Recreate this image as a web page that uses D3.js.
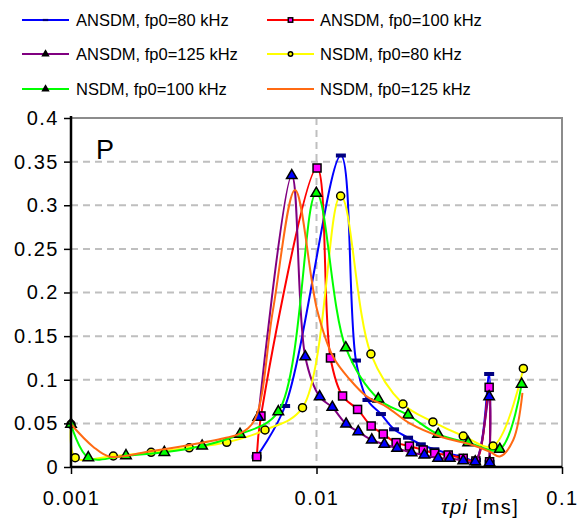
<!DOCTYPE html>
<html>
    <head>
        <meta charset="utf-8">
        <title></title>
        <script src="https://d3js.org/d3.v7.min.js"></script>
        <style>
            body { margin: 0; background: #fff; }
            text { font-family: "Liberation Sans", Arial, sans-serif; }
        </style>
    </head>
    <body>
       <div id="svgcontainer"></div>
       <script>
            var width = 587;
            var height = 520;

            // tau_pi [ms] and P values
            var tauA80  = [0.0057, 0.00745, 0.01257, 0.01448, 0.01613, 0.0183, 0.0207, 0.0236, 0.0266, 0.0302, 0.0342, 0.0392, 0.0446, 0.0505, 0.0507];
            var pA80    = [0.0118, 0.0699, 0.357, 0.122, 0.0768, 0.0607, 0.0432, 0.0336, 0.026, 0.0203, 0.0157, 0.0118, 0.008, 0.1066, 0.006];

            var tauA100 = [0.00571, 0.00594, 0.01005, 0.0114, 0.01277, 0.0147, 0.0167, 0.0187, 0.0211, 0.0239, 0.0272, 0.0303, 0.0344, 0.0396, 0.0446, 0.0505, 0.0507];
            var pA100   = [0.0118, 0.0585, 0.3427, 0.125, 0.0814, 0.066, 0.047, 0.0378, 0.0279, 0.024, 0.0195, 0.0157, 0.0138, 0.01, 0.0069, 0.0913, 0.006];

            var tauA125 = [0.00579, 0.00793, 0.009, 0.0103, 0.0116, 0.0132, 0.0148, 0.0168, 0.0189, 0.0213, 0.0244, 0.0275, 0.0313, 0.0349, 0.0396, 0.0443, 0.0505, 0.0507];
            var pA125   = [0.057, 0.334, 0.1264, 0.0806, 0.0684, 0.0493, 0.0405, 0.031, 0.026, 0.0214, 0.0164, 0.0138, 0.01, 0.01, 0.0072, 0.006, 0.0806, 0.005];

            var tauN80  = [0.001, 0.00104, 0.001487, 0.00212, 0.00303, 0.00431, 0.00617, 0.00877, 0.01254, 0.01666, 0.0225, 0.0298, 0.0396, 0.0524, 0.0696];
            var pN80    = [0.049, 0.0107, 0.0126, 0.0168, 0.022, 0.0283, 0.0424, 0.068, 0.3106, 0.1295, 0.0722, 0.0516, 0.0355, 0.024, 0.113];

            var tauN100 = [0.001, 0.001176, 0.001675, 0.0024, 0.00342, 0.00488, 0.00699, 0.00998, 0.01316, 0.01785, 0.0236, 0.0313, 0.0415, 0.0558, 0.0685];
            var pN100   = [0.049, 0.0107, 0.013, 0.0168, 0.024, 0.0375, 0.0634, 0.3137, 0.1367, 0.078, 0.0596, 0.0375, 0.0279, 0.0203, 0.095];

            var tauN125 = [0.001, 0.00123, 0.00144, 0.0021, 0.003, 0.0042, 0.0049, 0.0056, 0.00665, 0.00818, 0.01006, 0.0117, 0.0137, 0.016, 0.0193, 0.024, 0.0318, 0.0434, 0.0509, 0.0558, 0.0633, 0.069];
            var pN125   = [0.049, 0.0233, 0.0118, 0.018, 0.025, 0.033, 0.0386, 0.054, 0.18, 0.3175, 0.18, 0.126, 0.1, 0.081, 0.069, 0.05, 0.035, 0.025, 0.0175, 0.012, 0.031, 0.085];

            var seriesNames = ["ANSDM, fp0=80 kHz", "ANSDM, fp0=100 kHz", "ANSDM, fp0=125 kHz",
                               "NSDM, fp0=80 kHz", "NSDM, fp0=100 kHz", "NSDM, fp0=125 kHz"];

            var xTicks = [0.001, 0.01, 0.1];
            var xTickLabels = ["0.001", "0.01", "0.1"];
            var yTicks = [0, 0.05, 0.1, 0.15, 0.2, 0.25, 0.3, 0.35, 0.4];
            var yTickLabels = ["0", "0.05", "0.1", "0.15", "0.2", "0.25", "0.3", "0.35", "0.4"];

            var series = [
                {name: seriesNames[0], tau: tauA80,  p: pA80,  color: "#0000ff", marker: "dash"},
                {name: seriesNames[1], tau: tauA100, p: pA100, color: "#ff0000", marker: "square", fill: "#ff00ff"},
                {name: seriesNames[2], tau: tauA125, p: pA125, color: "#800080", marker: "triangle", fill: "#0000ff"},
                {name: seriesNames[3], tau: tauN80,  p: pN80,  color: "#ffff00", marker: "circle", fill: "#ffff00"},
                {name: seriesNames[4], tau: tauN100, p: pN100, color: "#00ff00", marker: "triangle", fill: "#00ff00"},
                {name: seriesNames[5], tau: tauN125, p: pN125, color: "#ff6a13", marker: "none"}
            ];

            var plotL = 71, plotR = 562, plotT = 118, plotB = 467;

            var x = d3.scaleLog().domain([0.001, 0.1]).range([plotL, plotR]);
            var y = d3.scaleLinear().domain([0, 0.4]).range([plotB, plotT]);

            var svg = d3.select("#svgcontainer")
                .append("svg")
                .attr("width", width)
                .attr("height", height);

            // grid
            svg.selectAll(".hgrid")
                .data(yTicks.slice(1, -1))
                .enter().append("line")
                .attr("x1", plotL).attr("x2", plotR)
                .attr("y1", d => y(d)).attr("y2", d => y(d))
                .attr("stroke", "#bfbfbf").attr("stroke-width", 2)
                .attr("stroke-dasharray", "7,5");

            svg.append("line")
                .attr("x1", x(0.01)).attr("x2", x(0.01))
                .attr("y1", plotT).attr("y2", plotB)
                .attr("stroke", "#bfbfbf").attr("stroke-width", 2)
                .attr("stroke-dasharray", "7,5");

            // top + right border
            svg.append("path")
                .attr("d", "M" + plotL + "," + plotT + "H" + plotR + "V" + plotB)
                .attr("fill", "none").attr("stroke", "#8c8c8c").attr("stroke-width", 2);

            var line = d3.line()
                .x(d => x(d[0]))
                .y(d => y(d[1]))
                .curve(d3.curveCatmullRom.alpha(0.5));

            function drawMarker(g, type, fill, s) {
                if (type == "dash") {
                    g.append("rect").attr("x", -5 * s).attr("y", -2 * s)
                        .attr("width", 10 * s).attr("height", 4 * s)
                        .attr("fill", "#000080");
                } else if (type == "square") {
                    g.append("rect").attr("x", -4 * s).attr("y", -4 * s)
                        .attr("width", 8 * s).attr("height", 8 * s)
                        .attr("fill", fill).attr("stroke", "#000").attr("stroke-width", 1.5);
                } else if (type == "triangle") {
                    g.append("path").attr("d", d3.symbol().type(d3.symbolTriangle).size(48 * s * s)())
                        .attr("fill", fill).attr("stroke", "#000").attr("stroke-width", 1.5);
                } else if (type == "circle") {
                    g.append("circle").attr("r", 4 * s)
                        .attr("fill", fill).attr("stroke", "#000").attr("stroke-width", 1.5);
                }
            }

            series.forEach(function(s) {
                var pts = s.tau.map((t, i) => [t, s.p[i]]);
                svg.append("path")
                    .datum(pts)
                    .attr("fill", "none")
                    .attr("stroke", s.color)
                    .attr("stroke-width", 2)
                    .attr("d", line);
                if (s.marker != "none") {
                    pts.forEach(function(d) {
                        var g = svg.append("g").attr("transform", "translate(" + x(d[0]) + "," + y(d[1]) + ")");
                        drawMarker(g, s.marker, s.fill, 1);
                    });
                }
            });

            // axes
            var yAxis = svg.append("g")
                .attr("transform", "translate(" + plotL + ",0)")
                .call(d3.axisLeft(y).tickValues(yTicks).tickSize(7).tickPadding(5)
                    .tickFormat((d, i) => yTickLabels[i]));
            yAxis.select(".domain").attr("stroke-width", 2.5).attr("d", "M0," + (plotT - 2) + "V" + (plotB + 1));
            yAxis.selectAll(".tick line").attr("stroke-width", 1.5);
            yAxis.selectAll("text").attr("font-size", 20).attr("fill", "#000")
                .attr("letter-spacing", 1.5)
                .attr("font-family", "Liberation Sans, Arial, sans-serif");

            var xAxis = svg.append("g")
                .attr("transform", "translate(0," + plotB + ")")
                .call(d3.axisBottom(x).tickValues(xTicks).tickSize(7).tickPadding(17)
                    .tickFormat((d, i) => xTickLabels[i]));
            xAxis.select(".domain").attr("stroke-width", 2.5).attr("d", "M" + plotL + ",0H" + plotR);
            xAxis.selectAll(".tick line").attr("stroke-width", 1.5);
            xAxis.selectAll("text").attr("font-size", 20).attr("fill", "#000")
                .attr("letter-spacing", 1.5)
                .attr("font-family", "Liberation Sans, Arial, sans-serif");

            var xt = svg.append("text")
                .attr("x", 441).attr("y", 514)
                .attr("font-size", 20)
                .attr("letter-spacing", 1.5);
            xt.append("tspan").attr("font-style", "italic").text("τpi");
            xt.append("tspan").text(" [ms]");

            svg.append("text")
                .attr("x", 96).attr("y", 159)
                .attr("font-size", 27)
                .text("P");

            // legend
            var legRows = [20, 54, 89];
            var legCols = [[22, 69, 76], [267, 314, 320]];
            series.forEach(function(s, i) {
                var c = legCols[i % 2], r = legRows[Math.floor(i / 2)];
                svg.append("line")
                    .attr("x1", c[0]).attr("x2", c[1])
                    .attr("y1", r).attr("y2", r)
                    .attr("stroke", s.color).attr("stroke-width", 2);
                if (s.marker != "none") {
                    var g = svg.append("g").attr("transform", "translate(" + ((c[0] + c[1]) / 2) + "," + r + ")");
                    drawMarker(g, s.marker, s.marker == "triangle" ? "#000" : s.fill, 0.55);
                }
                svg.append("text")
                    .attr("x", c[2]).attr("y", r + 6)
                    .attr("font-size", 16.5)
                    .text(s.name);
            });
       </script>
    </body>
</html>
